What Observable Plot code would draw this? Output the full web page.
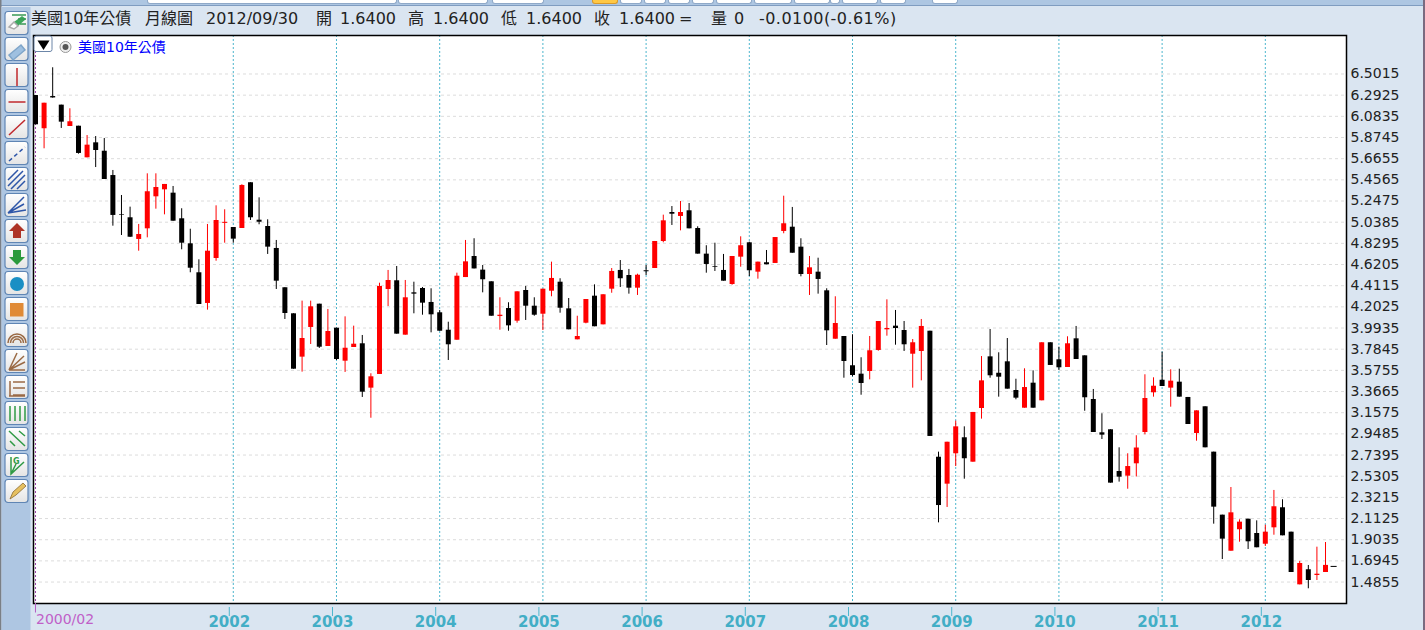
<!DOCTYPE html>
<html><head><meta charset="utf-8">
<script src="https://cdn.jsdelivr.net/npm/d3@7"></script>
<script src="https://cdn.jsdelivr.net/npm/@observablehq/plot@0.6"></script>
<style>
html,body{margin:0;padding:0;background:#dae5f1;width:1425px;height:630px;overflow:hidden;font-family:"DejaVu Sans","Noto Sans CJK TC",sans-serif}
#chart{position:absolute;left:0;top:0;width:1425px;height:630px}
.h{position:absolute;top:9px;font-size:16px;line-height:20px;color:#222;white-space:pre;font-family:"DejaVu Sans","Noto Sans CJK TC",sans-serif}
.pill{position:absolute;top:0;height:3px;background:#fff;border:1px solid #8fa9c8;border-top:0;border-radius:0 0 3px 3px}
</style></head><body>
<div id="chart"></div>
<script>
const open=[6.289,5.961,6.279,6.194,5.983,5.986,5.674,5.822,5.739,5.499,5.114,5.082,
4.868,4.973,5.289,5.358,5.325,5.072,4.825,4.539,4.236,4.680,5.027,4.986,
4.976,5.428,5.058,4.996,4.779,4.391,4.134,3.706,3.999,4.229,3.811,3.992,
3.666,3.801,3.838,3.400,3.535,4.374,4.460,3.923,4.341,4.384,4.246,4.144,
3.972,3.873,4.492,4.700,4.565,4.450,4.107,4.186,4.061,4.364,4.209,4.130,
4.357,4.446,4.183,3.877,4.041,4.308,4.025,4.377,4.562,4.512,4.387,4.559,
4.581,4.848,5.134,5.095,5.151,4.976,4.723,4.598,4.562,4.423,4.693,4.835,
4.545,4.638,4.631,4.947,4.989,4.792,4.522,4.545,4.361,3.883,3.910,3.621,
3.538,3.564,3.772,3.976,4.012,3.969,3.735,3.762,3.962,2.718,2.452,2.752,
2.910,2.669,3.199,3.709,3.547,3.660,3.377,3.202,3.449,3.275,3.848,3.680,
3.604,3.887,3.719,3.288,2.959,2.989,2.577,2.531,2.653,2.962,3.354,3.478,
3.400,3.459,3.308,2.952,3.216,2.768,2.146,1.790,2.002,2.106,1.965,1.859,
2.021,2.219,1.978,1.458,1.607,1.550,1.580,1.640];
const high=[6.289,6.213,6.563,6.194,6.158,5.986,5.894,5.884,5.865,5.549,5.302,5.187,
5.016,5.516,5.516,5.411,5.391,5.171,4.969,4.667,5.016,5.200,5.161,4.986,
5.408,5.428,5.279,5.062,4.858,4.391,4.134,4.259,4.259,4.229,4.177,3.992,
4.104,4.012,3.920,3.542,4.436,4.562,4.601,4.463,4.446,4.394,4.381,4.167,
4.051,4.535,4.858,4.875,4.611,4.450,4.292,4.243,4.351,4.404,4.292,4.377,
4.644,4.480,4.285,4.110,4.275,4.420,4.322,4.581,4.660,4.572,4.525,4.611,
4.848,5.108,5.193,5.243,5.223,4.993,4.806,4.831,4.720,4.700,4.894,4.841,
4.644,4.759,4.887,5.295,5.184,4.875,4.700,4.683,4.381,4.302,3.910,3.927,
3.700,3.910,4.058,4.272,4.167,4.058,3.880,4.078,3.962,2.768,2.866,3.074,
3.018,3.160,3.712,3.979,3.749,3.890,3.488,3.591,3.571,3.848,3.848,3.804,
3.907,4.009,3.719,3.387,3.147,2.989,2.811,2.752,2.930,3.532,3.502,3.755,
3.581,3.587,3.308,3.176,3.216,2.768,2.146,2.419,2.100,2.106,2.090,2.047,
2.390,2.298,1.978,1.689,1.649,1.830,1.876,1.640];
const low=[6.000,5.763,6.263,5.964,5.983,5.710,5.674,5.578,5.460,4.999,4.907,4.887,
4.752,4.884,5.167,5.111,5.048,4.766,4.539,4.226,4.170,4.653,4.831,4.831,
4.976,5.055,5.013,4.720,4.374,4.078,3.587,3.558,3.831,3.792,3.811,3.673,
3.555,3.801,3.308,3.103,3.535,4.206,3.933,3.923,4.134,4.120,3.946,3.962,
3.673,3.873,4.492,4.577,4.341,4.110,3.972,3.962,4.041,4.068,4.110,3.969,
4.302,4.140,3.976,3.877,4.035,4.006,4.025,4.337,4.394,4.328,4.315,4.512,
4.581,4.835,5.006,4.953,4.973,4.723,4.535,4.552,4.456,4.416,4.594,4.502,
4.476,4.618,4.631,4.924,4.732,4.499,4.315,4.328,3.821,3.883,3.498,3.512,
3.330,3.482,3.765,3.913,3.824,3.762,3.400,3.472,2.923,2.070,2.222,2.626,
2.501,2.669,3.094,3.498,3.311,3.390,3.285,3.202,3.202,3.275,3.624,3.574,
3.604,3.683,3.172,2.962,2.893,2.462,2.472,2.402,2.523,2.939,3.311,3.416,
3.212,3.311,3.041,2.876,2.811,2.057,1.708,1.790,1.879,1.807,1.824,1.837,
1.948,1.942,1.580,1.458,1.419,1.501,1.580,1.640];
const close=[6.000,6.213,6.265,6.026,6.030,5.717,5.799,5.746,5.460,5.105,5.108,4.890,
4.917,5.339,5.381,5.411,5.048,4.831,4.584,4.226,4.752,5.055,5.037,4.871,
5.401,5.082,5.038,4.792,4.456,4.137,3.587,3.890,4.203,3.804,3.959,3.683,
3.794,3.834,3.360,3.512,4.404,4.463,3.933,4.292,4.328,4.239,4.124,3.962,
3.828,4.505,4.647,4.577,4.470,4.110,4.120,4.015,4.351,4.209,4.120,4.377,
4.483,4.189,3.976,3.910,4.275,4.006,4.322,4.552,4.480,4.387,4.515,4.549,
4.848,5.052,5.117,5.134,4.973,4.723,4.621,4.591,4.456,4.700,4.806,4.559,
4.644,4.618,4.887,5.023,4.732,4.522,4.588,4.473,3.966,4.038,3.663,3.525,
3.446,3.769,4.058,3.989,3.989,3.828,3.848,4.009,2.923,2.241,2.866,3.018,
2.703,3.160,3.472,3.522,3.508,3.390,3.301,3.406,3.202,3.848,3.624,3.601,
3.838,3.683,3.305,2.962,2.936,2.462,2.521,2.626,2.809,3.298,3.419,3.416,
3.469,3.311,3.041,3.176,2.811,2.225,1.909,2.169,2.077,1.883,1.824,1.978,
2.229,1.942,1.580,1.669,1.501,1.563,1.650,1.640];
const priceTicks=[6.5015,6.2925,6.0835,5.8745,5.6655,5.4565,5.2475,5.0385,4.8295,4.6205,4.4115,4.2025,3.9935,3.7845,3.5755,3.3665,3.1575,2.9485,2.7395,2.5305,2.3215,2.1125,1.9035,1.6945,1.4855];
const yearLabels=["2002","2003","2004","2005","2006","2007","2008","2009","2010","2011","2012"];
const yearIndex=[23,35,47,59,71,83,95,107,119,131,143];
const firstLabel="2000/02";
const yearLab=new Map(yearIndex.map((d,i)=>[d,yearLabels[i]]));

const candles=open.map((o,i)=>({i,open:o,high:high[i],low:low[i],close:close[i]}));
const up=d=>d.close>d.open?"#ff0000":"#000000";
const flat=candles.filter(d=>d.close===d.open);

const chart=Plot.plot({
  width:1425,height:630,
  marginLeft:33,marginRight:79,marginTop:35,marginBottom:27,
  style:{background:"transparent",fontFamily:"'DejaVu Sans',sans-serif"},
  x:{domain:[-0.23,152.44],axis:null},
  y:{domain:[1.2738,6.8816],axis:null},
  marks:[
    Plot.frame({fill:"#fff",stroke:"none"}),
    Plot.gridY(priceTicks,{stroke:"#dcdcdc",strokeOpacity:1,strokeWidth:1,strokeDasharray:"3 3"}),
    Plot.ruleX(yearIndex,{stroke:"#4db6cd",strokeWidth:1,strokeDasharray:"2 2"}),
    Plot.ruleX([0],{stroke:"#9a40a8",strokeWidth:1,strokeDasharray:"2 2"}),
    Plot.ruleX(candles,{x:"i",y1:"low",y2:"high",stroke:up,strokeWidth:1,clip:true}),
    Plot.ruleX(candles,{x:"i",y1:"open",y2:"close",stroke:up,strokeWidth:5,clip:true}),
    Plot.ruleY(flat,{y:"close",x1:d=>d.i-0.35,x2:d=>d.i+0.35,stroke:up,strokeWidth:1}),
    Plot.frame({stroke:"#000",strokeWidth:1.5}),
    Plot.axisY(priceTicks,{anchor:"right",tickSize:0,tickPadding:4,tickFormat:d=>d.toFixed(4),fontSize:14,fill:"#222",textStroke:"none"}),
    Plot.axisX(yearIndex,{anchor:"bottom",tickSize:9,tickPadding:0,label:null,tickFormat:d=>yearLab.get(d),stroke:"#4db6cd",fill:"#42aec6",fontSize:15,fontWeight:"bold",dx:-4,dy:4,textStroke:"none"}),
    Plot.ruleX([0],{y1:1.2738,y2:1.18,stroke:"#b45cc4",clip:false}),
    Plot.text([0],{x:d=>d,frameAnchor:"bottom",text:()=>firstLabel,textAnchor:"start",dy:20,dx:0.5,fill:"#c060c8",fontSize:14})
  ]
});
document.getElementById("chart").appendChild(chart);

// window chrome
const body=document.body;
const head=[[31,"美國10年公債"],[145,"月線圖"],[206,"2012/09/30"],[316,"開"],[340,"1.6400"],[408,"高"],[433,"1.6400"],[501,"低"],[526,"1.6400"],[594,"收"],[619,"1.6400"],[679,"="],[711,"量"],[734,"0"],[759,"-0.0100(-0.61%)"]];
head.forEach(([x,t],i)=>{const s=document.createElement("div");s.className="h";s.style.left=x+"px";s.textContent=t;if(i===head.length-1)s.style.letterSpacing="0.45px";body.appendChild(s);});
const strip=document.createElement("div");
strip.style.cssText="position:absolute;left:0;top:0;width:1425px;height:5px;background:#adc6e2;border-bottom:1px solid #7f9cc0";
body.appendChild(strip);
[[147,248],[398,88],[492,50],[620,20],[644,20],[668,20],[692,20],[716,34],[754,36],[794,34],[830,8],[842,34],[880,24],[932,24]].forEach(([x,w])=>{
  const p=document.createElement("div");p.className="pill";p.style.left=x+"px";p.style.width=w+"px";body.appendChild(p);});
const ob=document.createElement("div");ob.className="pill";ob.style.cssText+="left:592px;width:24px;background:#ffc845;border-color:#d99a2b";body.appendChild(ob);
const label=document.createElement("div");
label.style.cssText="position:absolute;left:78px;top:38px;font-size:14px;line-height:18px;color:#0000ff;font-family:'DejaVu Sans','Noto Sans CJK TC',sans-serif";
label.textContent="美國10年公債";body.appendChild(label);

const ns=`
<svg xmlns="http://www.w3.org/2000/svg" width="1425" height="630" style="position:absolute;left:0;top:0;pointer-events:none">
<defs><linearGradient id="bg" x1="0" y1="0" x2="0" y2="1"><stop offset="0" stop-color="#fff"/><stop offset="1" stop-color="#e4e4e4"/></linearGradient></defs>
<rect x="0" y="0" width="1.5" height="630" fill="#7a7f86"/>
<rect x="1.5" y="7" width="29" height="623" fill="#aec6e2"/>
<rect x="1423" y="0" width="2" height="630" fill="#7a6a80"/>
<rect x="34" y="36" width="18" height="15.5" rx="2" fill="#fff" stroke="#6c86a8"/>
<path d="M37.500 40.500h12l-6 9.500z" fill="#000"/>
<circle cx="65.500" cy="47" r="5.500" fill="#eee" stroke="#999"/><circle cx="65.500" cy="47" r="3" fill="#555"/>
${Array.from({length:19},(_,k)=>`<rect x="5" y="${11.5+26*k}" width="23" height="23" rx="3" fill="url(#bg)" stroke="#5f85b4" stroke-width="1.200"/>`).join("")}
<g fill="none" stroke-width="1.500">
<path d="M14 22l8-6 4 3-8 7z" fill="#3ca85c"/><path d="M9 27l5-5 4 4-4 3z" fill="#fff" stroke="#aaa"/><path d="M12 15h14M18 19h8M20 24h6" stroke="#3a9a55"/>
<path d="M9 55l12-10 4 5-12 10z" fill="#9fc0e0" stroke="#7fa5c9"/>
<path d="M17 68v18" stroke="#c0282d"/><path d="M8.500 102h17" stroke="#c0282d"/><path d="M9 135l16-15" stroke="#c0282d"/>
<path d="M9 161l16-14" stroke="#2d55a8" stroke-dasharray="4 3"/>
<path d="M8 180l10-10M8 186l15-15M11 189l14-14M17 189l8-8" stroke="#2d55a8"/>
<path d="M8 213l16-16M8 213l16-9M8 213l18-3" stroke="#2d55a8"/>
</g>
<path d="M17 223l8 8h-4v7h-8v-7h-4z" fill="#ae3326"/>
<path d="M17 265l8-8h-4v-7h-8v7h-4z" fill="#2b9a3c"/>
<circle cx="17" cy="284" r="7" fill="#1a8fc4"/>
<rect x="10" y="303" width="13.500" height="13.500" fill="#e08a35"/>
<g fill="none" stroke="#9a6a45" stroke-width="1.500">
<path d="M8 343a9 9 0 0 1 18 0M10.500 343a6.500 6.500 0 0 1 13 0M13 343a4 4 0 0 1 8 0"/>
<path d="M9 370h16M9 370l15-14M9 370l8-17M9 370l16-8"/>
<path d="M10 381v15M13 382h12M13 388h12M13 395h12M9 396h16"/>
</g>
<g fill="none" stroke="#2f9a45" stroke-width="1.500">
<path d="M10 406v15M15 406v15M20 406v15M25 406v15"/>
<path d="M9 431l16 15M10 441l5 5M19 431l6 5"/>
<path d="M11 457v17l13-12M11 474l5-10"/>
</g>
<text x="13" y="464" font-size="8" font-weight="bold" fill="#2f9a45" font-family="DejaVu Sans">G</text>
<path d="M10 499l3-7 10-9 3 3-10 9z" fill="#e6c060" stroke="#8a6a30" stroke-width=".8"/>
</svg>`;
const wrap=document.createElement("div");wrap.innerHTML=ns;body.appendChild(wrap);
</script>
</body></html>
